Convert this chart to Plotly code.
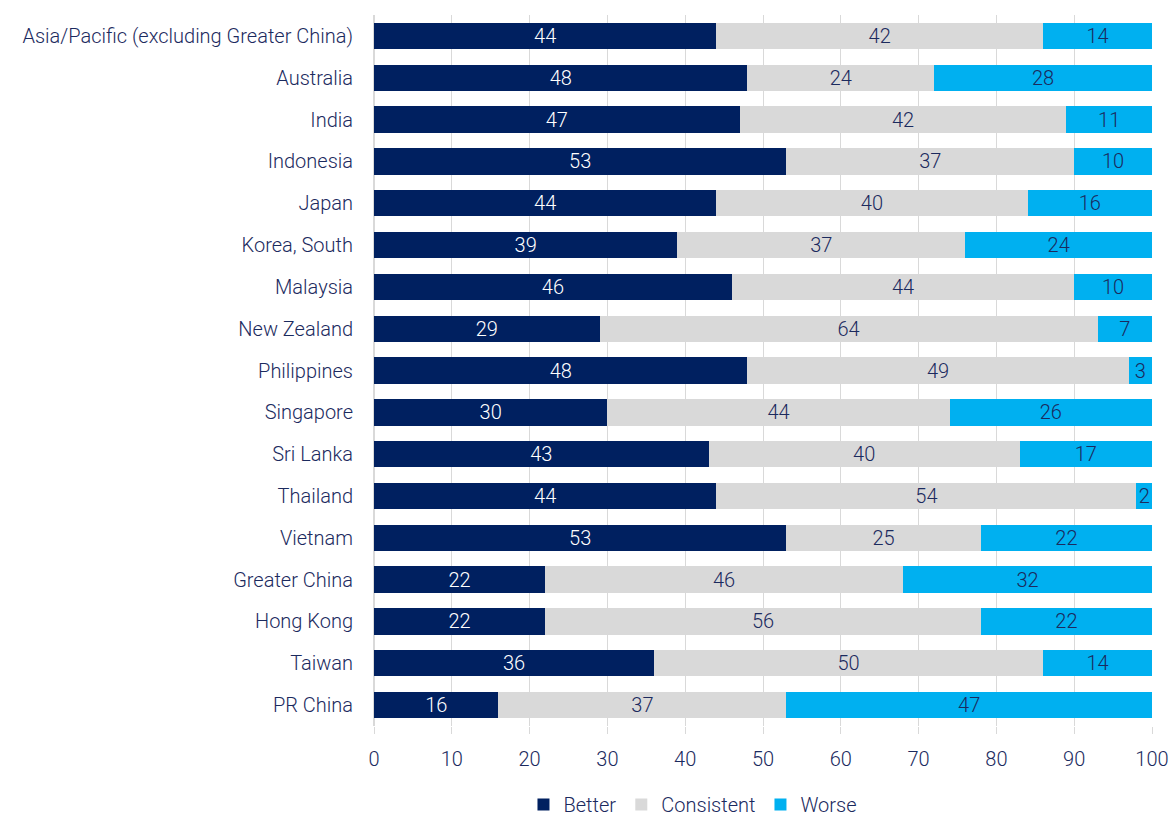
import plotly.graph_objects as go

regions = [
    "Asia/Pacific (excluding Greater China)", "Australia", "India", "Indonesia",
    "Japan", "Korea, South", "Malaysia", "New Zealand", "Philippines",
    "Singapore", "Sri Lanka", "Thailand", "Vietnam", "Greater China",
    "Hong Kong", "Taiwan", "PR China",
]
better = [44, 48, 47, 53, 44, 39, 46, 29, 48, 30, 43, 44, 53, 22, 22, 36, 16]
consistent = [42, 24, 42, 37, 40, 37, 44, 64, 49, 44, 40, 54, 25, 46, 56, 50, 37]
worse = [14, 28, 11, 10, 16, 24, 10, 7, 3, 26, 17, 2, 22, 32, 22, 14, 47]

NAVY = "#1b2a5e"
FONT = "Roboto, sans-serif"
SIZE = 20

series = [
    ("Better", better, "#002060", "white"),
    ("Consistent", consistent, "#d9d9d9", NAVY),
    ("Worse", worse, "#00b0f0", NAVY),
]

fig = go.Figure()
for name, vals, color, txt in series:
    fig.add_trace(go.Bar(
        y=regions, x=vals, name=name, orientation="h",
        marker=dict(color=color, line=dict(width=0)),
        text=[str(v) for v in vals], textposition="inside",
        insidetextanchor="middle", textangle=0,
        insidetextfont=dict(color=txt, size=SIZE, family=FONT, weight=300),
        cliponaxis=False,
    ))

fig.update_layout(
    barmode="stack", bargap=0.37,
    width=1170, height=821,
    margin=dict(l=374, r=18, t=15, b=95, autoexpand=False),
    paper_bgcolor="white", plot_bgcolor="white",
    font=dict(family=FONT, color=NAVY, size=SIZE, weight=300),
    uniformtext=dict(minsize=SIZE, mode="show"),
    legend=dict(orientation="h", x=0.41, xanchor="center",
                yref="container", y=0.02, yanchor="middle",
                font=dict(size=SIZE, weight=300), traceorder="normal",
                itemwidth=30),
    xaxis=dict(range=[0, 100], dtick=10, showgrid=True, gridcolor="#d9d9d9",
               gridwidth=1, zeroline=True, zerolinecolor="#d9d9d9",
               ticks="outside", ticklen=7, tickcolor="#d9d9d9",
               ticklabelstandoff=8, automargin=False,
               tickfont=dict(size=SIZE, weight=300), showline=False,
               fixedrange=True),
    yaxis=dict(categoryorder="array", categoryarray=regions[::-1],
               autorange=True, ticks="", tickfont=dict(size=SIZE, weight=300),
               ticklabelstandoff=20, automargin=False,
               showline=False, fixedrange=True),
)
fig.write_html("out.html")
